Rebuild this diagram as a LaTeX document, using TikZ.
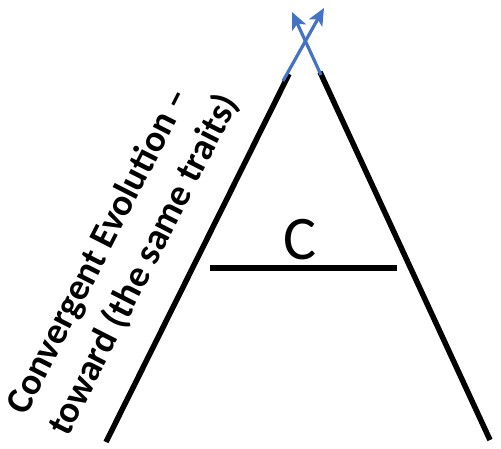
\documentclass[tikz,border=0pt]{standalone}
\usepackage{fontspec}
\setmainfont{Carlito}
\usetikzlibrary{arrows.meta}
\definecolor{arrowblue}{RGB}{68,114,196}
\tikzset{
  branch/.style={line width=5.5pt, black},
  crossarrow/.style={line width=3.2pt, arrowblue, -{Stealth[length=17pt,width=15pt,inset=4pt]}},
  lbl/.style={inner sep=0pt, font=\bfseries\fontsize{37.5pt}{47pt}\selectfont, align=left}
}
\begin{document}
\begin{tikzpicture}[x=1pt,y=1pt]
\useasboundingbox (0,0) rectangle (501,448);
% coordinates (y measured from bottom)
\coordinate (lb) at (106,6);
\coordinate (lt) at (289,374);
\coordinate (rb) at (490,8);
\coordinate (rt) at (320,376);
\coordinate (hl) at (210,180);
\coordinate (hr) at (397,180);
\coordinate (las) at (283,367);
\coordinate (lae) at (324,440);
\coordinate (ras) at (321,373);
\coordinate (rae) at (292,436);
\draw[branch] (lb) -- (lt);
\draw[branch] (rb) -- (rt);
\draw[branch] (hl) -- (hr);
\draw[crossarrow] (las) -- (lae);
\draw[crossarrow] (ras) -- (rae);
\node[inner sep=0pt, font=\fontsize{62pt}{66pt}\selectfont] (c) at (300,208) {C};
\node[lbl, rotate=63] (t) at (123.5,193.5) {Convergent Evolution –\\toward (the same traits)};
\end{tikzpicture}
\end{document}
